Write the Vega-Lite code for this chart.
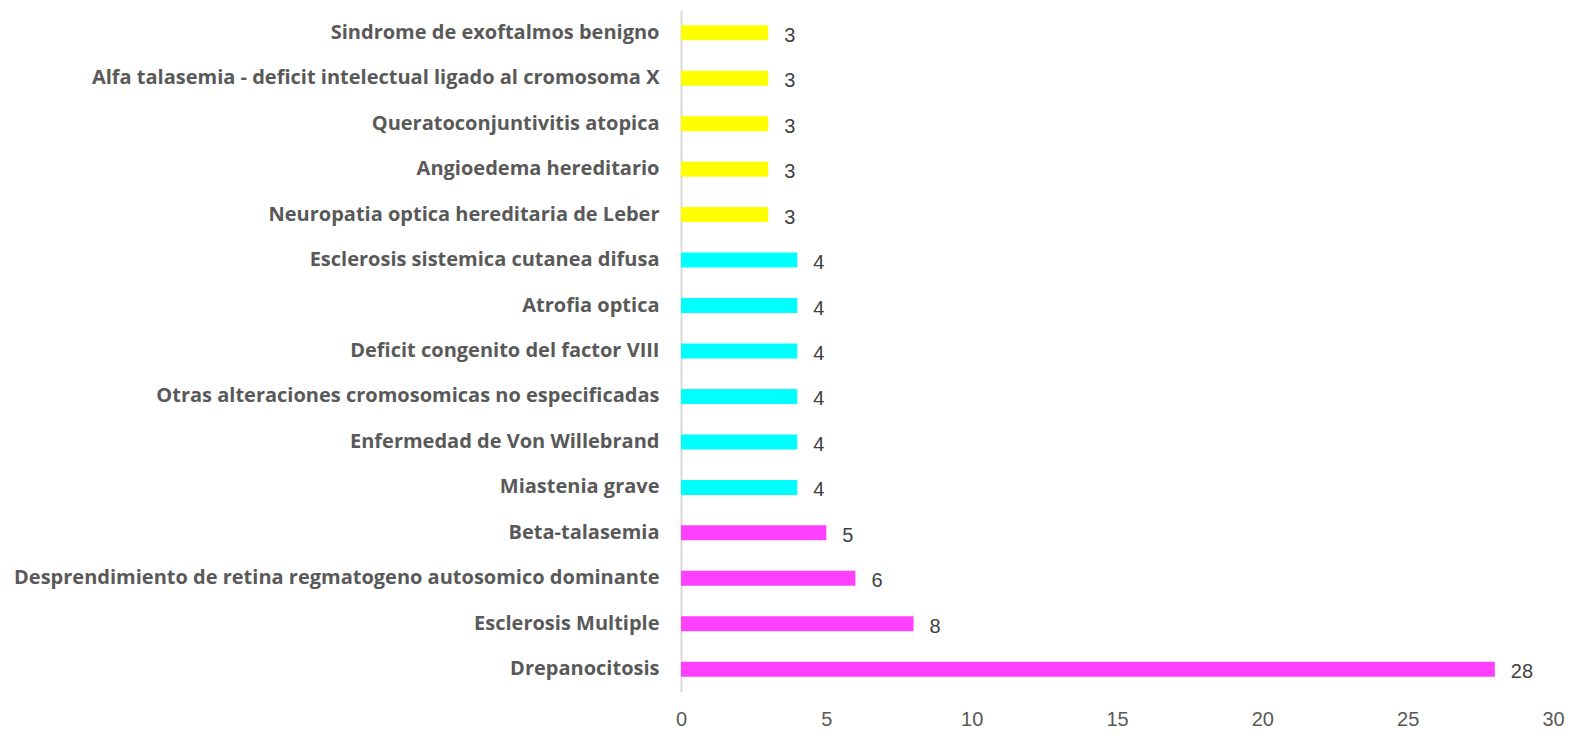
{
  "$schema": "https://vega.github.io/schema/vega-lite/v6.json",
  "width": 872,
  "height": 682,
  "autosize": {"type": "none"},
  "padding": {"left": 681, "top": 10, "right": 18, "bottom": 44},
  "background": "white",
  "config": {"view": {"stroke": null}},
  "data": {
    "values": [
      {"label": "Sindrome de exoftalmos benigno", "value": 3, "group": "a"},
      {"label": "Alfa talasemia - deficit intelectual ligado al cromosoma X", "value": 3, "group": "a"},
      {"label": "Queratoconjuntivitis atopica", "value": 3, "group": "a"},
      {"label": "Angioedema hereditario", "value": 3, "group": "a"},
      {"label": "Neuropatia optica hereditaria de Leber", "value": 3, "group": "a"},
      {"label": "Esclerosis sistemica cutanea difusa", "value": 4, "group": "b"},
      {"label": "Atrofia optica", "value": 4, "group": "b"},
      {"label": "Deficit congenito del factor VIII", "value": 4, "group": "b"},
      {"label": "Otras alteraciones cromosomicas no especificadas", "value": 4, "group": "b"},
      {"label": "Enfermedad de Von Willebrand", "value": 4, "group": "b"},
      {"label": "Miastenia grave", "value": 4, "group": "b"},
      {"label": "Beta-talasemia", "value": 5, "group": "c"},
      {"label": "Desprendimiento de retina regmatogeno autosomico dominante", "value": 6, "group": "c"},
      {"label": "Esclerosis Multiple", "value": 8, "group": "c"},
      {"label": "Drepanocitosis", "value": 28, "group": "c"}
    ]
  },
  "encoding": {
    "y": {
      "field": "label", "type": "nominal", "sort": null, "title": null,
      "scale": {"paddingInner": 0, "paddingOuter": 0},
      "axis": {
        "ticks": false, "labelPadding": 22, "labelLimit": 800,
        "labelFont": "Open Sans", "labelFontWeight": "bold", "labelFontSize": 20,
        "labelColor": "#595959", "domainColor": "#d9d9d9", "domainWidth": 2
      }
    },
    "x": {
      "field": "value", "type": "quantitative", "title": null,
      "scale": {"domain": [0, 30], "nice": false},
      "axis": {
        "values": [0, 5, 10, 15, 20, 25, 30], "grid": false, "domain": false, "ticks": false,
        "labelPadding": 17, "labelFont": "Liberation Sans", "labelFontSize": 20,
        "labelColor": "#595959", "labelFlush": false
      }
    }
  },
  "layer": [
    {
      "mark": {"type": "bar", "size": 15},
      "encoding": {
        "color": {
          "field": "group", "type": "nominal", "legend": null,
          "scale": {"domain": ["a", "b", "c"], "range": ["#FFFF00", "#00FFFF", "#FF40FF"]}
        }
      }
    },
    {
      "mark": {"type": "text", "align": "left", "dx": 16, "dy": 3, "font": "Liberation Sans", "fontSize": 20, "color": "#404040"},
      "encoding": {"text": {"field": "value", "type": "quantitative"}}
    }
  ]
}
